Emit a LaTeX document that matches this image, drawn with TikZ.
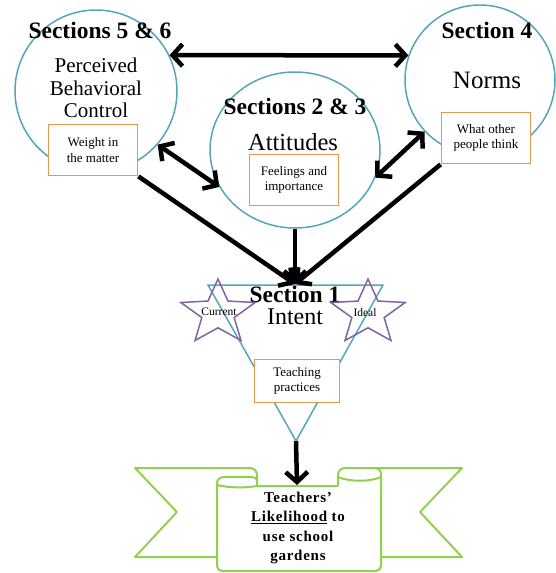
\documentclass[tikz,border=0pt]{standalone}
\usepackage{fontspec}
\setmainfont{Liberation Serif}
\usetikzlibrary{arrows.meta,shapes.geometric}
\definecolor{ringc}{RGB}{84,166,186}
\definecolor{boxc}{RGB}{232,152,78}
\definecolor{starc}{RGB}{128,100,162}
\definecolor{ribc}{RGB}{146,208,80}

\begin{document}
\begin{tikzpicture}[x=1pt, y=-1pt,
	ring/.style={circle, draw=ringc, line width=1.5pt},
	note/.style={draw=boxc, line width=1.8pt, fill=white, align=center,
		font=\fontsize{13}{15.5}\selectfont, minimum width=89pt, minimum height=51pt},
	sect/.style={font=\bfseries\fontsize{23.5}{26}\selectfont},
	big/.style={align=center, font=\fontsize{21}{22.5}\selectfont},
	dbl/.style={line width=4.5pt, {Straight Barb[length=10pt,width=22pt]}-{Straight Barb[length=10pt,width=22pt]}},
	arr/.style={line width=4.5pt, -{Straight Barb[length=10pt,width=22pt]}},
	starbox/.style={star, star points=5, star point ratio=2.3, minimum size=68pt, xscale=1.15,
		inner sep=0pt, draw=starc, line width=1.5pt}]
	\useasboundingbox (0,0) rectangle (556,573);

	% three circles
	\node[ring, minimum size=162pt] (pbc) at (96,91) {};
	\node[ring, minimum size=150pt] (nrm) at (480,80) {};
	\node[ellipse, draw=ringc, line width=1.5pt, minimum width=170pt, minimum height=156pt] (att) at (295,150) {};

	\node[sect] (s56) at (100,30) {Sections 5 \& 6};
	\node[big] (pbct) at (96,88) {Perceived\\Behavioral\\Control};
	\node[sect] (s4) at (487,30) {Section 4};
	\node[big, font=\fontsize{25}{27}\selectfont] (nrmt) at (487,80) {Norms};
	\node[sect] (s23) at (295,106) {Sections 2 \& 3};
	\node[big, font=\fontsize{24.5}{27}\selectfont] (attt) at (293,142) {Attitudes};

	\node[note] (wgt) at (93,150) {Weight in\\the matter};
	\node[note] (oth) at (486,138) {What other\\people think};
	\node[note] (fel) at (294,180) {Feelings and\\importance};

	\draw[dbl] (pbc.26) -- (nrm.161);
	\draw[dbl] (pbc.-41) -- (att.206);
	\draw[dbl] (nrm.223) -- (att.-19);

	% intent
	\coordinate (tl) at (208,285); \coordinate (tr) at (383,285);
	\coordinate (tb) at (296,441); \coordinate (tip) at (295,284);
	\draw[ringc, line width=1.5pt] (tl) -- (tr) -- (tb) -- cycle;
	\draw[arr] (wgt.south east) -- (tip);
	\draw[arr] (att.south) -- (tip);
	\draw[arr] (oth.south west) -- (tip);

	\node[sect] (s1) at (295,294) {Section 1};
	\node[big, font=\fontsize{24}{26}\selectfont] (int) at (295,317) {Intent};
	\node[starbox] (cur) at (218,313) {};
	\node[starbox] (idl) at (368,313) {};
	\node[font=\fontsize{11.5}{13}\selectfont] (curt) at (219,312) {Current};
	\node[font=\fontsize{11.5}{13}\selectfont] (idlt) at (365,313) {Ideal};
	\node[note, minimum width=85pt, minimum height=43pt] (tch) at (297,381) {Teaching\\practices};

	% ribbon
	\begin{scope}[ribc, line width=2pt, line join=round]
	\draw (217,557) -- (135,557) -- (177,512) -- (135,468) -- (250,468) to[out=0,in=90] (257,475) -- (257,486);
	\draw (338,486) -- (338,475) to[out=90,in=180] (345,468) -- (462,468) -- (420,512) -- (462,557) -- (381,557);
	\draw (338,477) .. controls (350,482) and (370,482) .. (381,477);
	\draw (217,485) .. controls (230,488) and (245,488) .. (257,486) -- (338,486);
	\draw (375,468) to[out=0,in=90] (381,474) -- (381,566) to[out=-90,in=0] (376,571) -- (222,571)
		to[out=180,in=-90] (217,566) -- (217,483) to[out=90,in=180] (224,477) -- (250,477) to[out=0,in=90] (257,481);
	\end{scope}
	\coordinate (bt) at (297,485);
	\draw[arr] (tb) -- (bt);
	\node[align=center, font=\bfseries\fontsize{15}{19.5}\selectfont\addfontfeature{LetterSpace=5}] (ban) at (298,528)
		{Teachers'\\\underline{Likelihood} to\\use school\\gardens};

\end{tikzpicture}
\end{document}
